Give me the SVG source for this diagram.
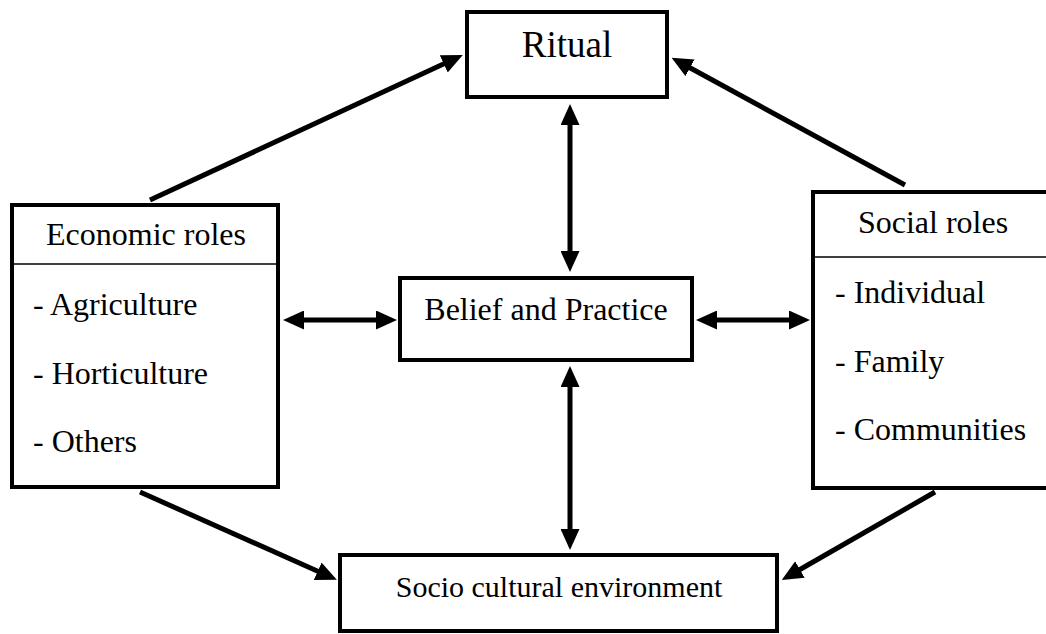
<svg xmlns="http://www.w3.org/2000/svg" width="1046" height="634" viewBox="0 0 1046 634">
<style>
.box{fill:#fff;stroke:#000;stroke-width:4}
.div{stroke:#000;stroke-width:1.5}
text{font-family:"Liberation Serif","Times New Roman",serif;font-size:32px;fill:#000}
.c{text-anchor:middle}
.ln{stroke:#000;stroke-width:5;fill:none}
</style>
<defs>
<marker id="ah" markerUnits="userSpaceOnUse" markerWidth="21" markerHeight="19" refX="8" refY="9.5" orient="auto-start-reverse" viewBox="0 0 21 19">
<path d="M0,0 L21,9.5 L0,19 z" fill="#000"/>
</marker>
</defs>
<rect width="1046" height="634" fill="#fff"/>
<g id="ritual">
<rect class="box" x="467" y="12" width="200" height="85"/>
<text class="c" x="567" y="57" style="font-size:37px">Ritual</text>
</g>
<g id="economic">
<rect class="box" x="12" y="205" width="266" height="282"/>
<line class="div" x1="12" y1="264" x2="278" y2="264"/>
<text class="c" x="146" y="245">Economic roles</text>
<text x="33" y="315">- Agriculture</text>
<text x="33" y="384">- Horticulture</text>
<text x="33" y="452">- Others</text>
</g>
<g id="social">
<rect class="box" x="813" y="192" width="240" height="296"/>
<line class="div" x1="813" y1="257" x2="1046" y2="257"/>
<text class="c" x="933" y="233">Social roles</text>
<text x="835" y="303">- Individual</text>
<text x="835" y="372">- Family</text>
<text x="835" y="440">- Communities</text>
</g>
<g id="belief">
<rect class="box" x="400" y="278" width="292" height="82"/>
<text class="c" x="546" y="320">Belief and Practice</text>
</g>
<g id="socio">
<rect class="box" x="340" y="555" width="437" height="76"/>
<text class="c" x="559" y="597" style="font-size:30px">Socio cultural environment</text>
</g>
<g id="connectors">
<line class="ln" x1="150" y1="200" x2="451" y2="60.5" marker-end="url(#ah)"/>
<line class="ln" x1="905" y1="185" x2="683" y2="64" marker-end="url(#ah)"/>
<line class="ln" x1="570" y1="117" x2="570" y2="259" marker-start="url(#ah)" marker-end="url(#ah)"/>
<line class="ln" x1="570" y1="379" x2="570" y2="537" marker-start="url(#ah)" marker-end="url(#ah)"/>
<line class="ln" x1="296" y1="320" x2="384" y2="320" marker-start="url(#ah)" marker-end="url(#ah)"/>
<line class="ln" x1="709" y1="320" x2="797" y2="320" marker-start="url(#ah)" marker-end="url(#ah)"/>
<line class="ln" x1="140" y1="492" x2="325" y2="574.5" marker-end="url(#ah)"/>
<line class="ln" x1="935" y1="492" x2="793" y2="573.5" marker-end="url(#ah)"/>
</g>
</svg>
